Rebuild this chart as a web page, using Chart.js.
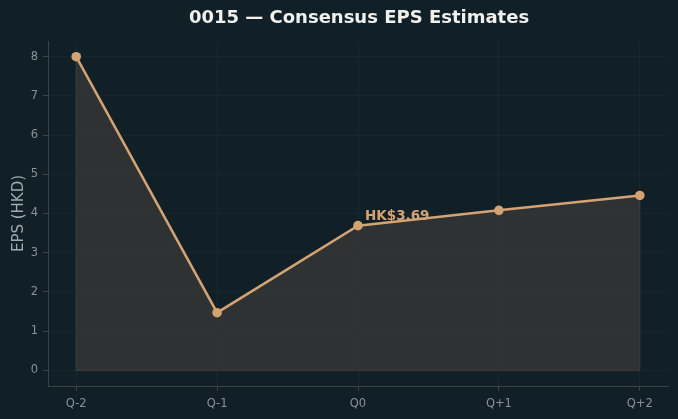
<!DOCTYPE html>
<html>
<head>
<meta charset="utf-8">
<script src="https://cdn.jsdelivr.net/npm/chart.js@4.4.1/dist/chart.umd.min.js"></script>
<style>
html,body{margin:0;padding:0;background:#112027;}
#wrap{width:678px;height:419px;position:relative;}
</style>
</head>
<body>
<div id="wrap"><canvas id="c" width="678" height="419"></canvas></div>
<script>
const quarters=['Q-2','Q-1','Q0','Q+1','Q+2'];
const epsValues=[8.0,1.47,3.69,4.08,4.46];
const yTicks=[0,1,2,3,4,5,6,7,8];
const titleText='0015 — Consensus EPS Estimates';
const noteText='HK$3.69';

const accent='#d4a373';
const tickCol='#8a9196';
const gridCol='rgba(255,255,255,0.03)';
const axisCol='#3d4345';

const pts=epsValues.map((v,i)=>({x:i,y:v}));

const overlay={
  id:'overlay',
  beforeDatasetsDraw(chart){
    // fill edge like matplotlib fill_between
    const {ctx,scales:{x,y}}=chart;
    ctx.save();
    ctx.strokeStyle='rgba(90,90,80,0.55)';
    ctx.lineWidth=1;
    ctx.beginPath();
    ctx.moveTo(x.getPixelForValue(0),y.getPixelForValue(epsValues[0]));
    ctx.lineTo(x.getPixelForValue(0),y.getPixelForValue(0));
    ctx.lineTo(x.getPixelForValue(epsValues.length-1),y.getPixelForValue(0));
    ctx.lineTo(x.getPixelForValue(epsValues.length-1),y.getPixelForValue(epsValues[epsValues.length-1]));
    ctx.stroke();
    ctx.restore();
  },
  afterDraw(chart){
    const {ctx,scales:{x,y}}=chart;
    ctx.save();
    ctx.fillStyle='#f0f0ec';
    ctx.font='bold 18px "DejaVu Sans"';
    ctx.textAlign='center';ctx.textBaseline='middle';
    ctx.fillText(titleText,359,18);
    ctx.fillStyle=accent;
    ctx.font='bold 13.5px "DejaVu Sans"';
    ctx.textAlign='left';ctx.textBaseline='alphabetic';
    ctx.fillText(noteText,x.getPixelForValue(2)+7,y.getPixelForValue(epsValues[2])-6);
    ctx.restore();
  }
};

new Chart(document.getElementById('c'),{
  type:'line',
  data:{datasets:[{
    data:pts,
    borderColor:accent,
    borderWidth:2.5,
    backgroundColor:'rgba(60,59,55,0.7)',
    fill:'origin',
    tension:0,
    pointRadius:4.8,
    pointBackgroundColor:accent,
    pointBorderColor:accent,
    pointBorderWidth:0
  }]},
  options:{
    responsive:false,
    animation:false,
    layout:{padding:{top:41,right:10,left:1,bottom:0}},
    plugins:{legend:{display:false},title:{display:false},tooltip:{enabled:false}},
    scales:{
      x:{
        type:'linear',min:-0.2,max:4.2,
        afterBuildTicks:s=>{s.ticks=quarters.map((_,i)=>({value:i}));},
        afterFit:s=>{s.height=33;},
        ticks:{color:tickCol,font:{family:'DejaVu Sans',size:11.5},padding:6,callback:v=>quarters[v],maxRotation:0},
        grid:{color:gridCol,tickColor:axisCol,tickLength:5},
        border:{color:axisCol,width:1}
      },
      y:{
        min:-0.4,max:8.4,
        afterBuildTicks:s=>{s.ticks=yTicks.map(v=>({value:v}));},
        afterFit:s=>{s.width=47;},
        ticks:{color:tickCol,font:{family:'DejaVu Sans',size:11.5},padding:5},
        grid:{color:gridCol,tickColor:axisCol,tickLength:5},
        border:{color:axisCol,width:1},
        title:{display:true,text:'EPS (HKD)',color:'#a3aaae',font:{family:'DejaVu Sans',size:15},padding:{top:9,bottom:0}}
      }
    }
  },
  plugins:[overlay]
});
</script>
</body>
</html>
